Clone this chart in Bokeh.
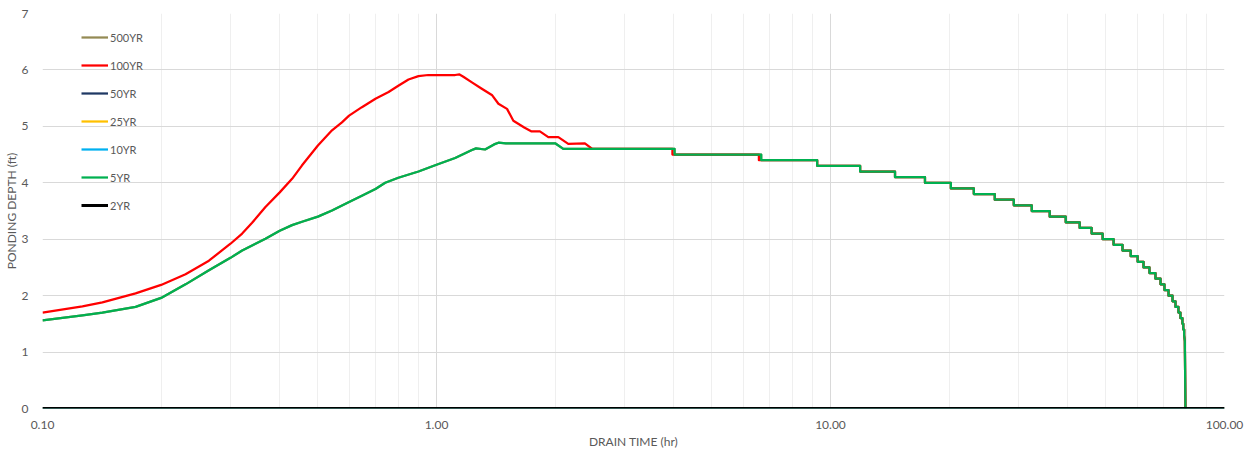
from bokeh.plotting import figure
from bokeh.models import Legend, LegendItem, FixedTicker, PrintfTickFormatter, Range1d
from bokeh.embed import file_html
from bokeh.resources import INLINE

# ---------------- data ----------------
series_names = ["500YR", "100YR", "50YR", "25YR", "10YR", "5YR", "2YR"]
series_colors = ["#948a54", "#ff0000", "#1f3864", "#ffc000", "#00b0f0", "#00b050", "#000000"]

x_ticks = [0.1, 1.0, 10.0, 100.0]
y_ticks = [0, 1, 2, 3, 4, 5, 6, 7]

# 100YR rising / falling limb (hr, ft)
red_t = [0.1, 0.1263, 0.1419, 0.1723, 0.2, 0.2307, 0.2645, 0.3, 0.3212, 0.3404,
         0.368, 0.4, 0.43, 0.4558, 0.5, 0.543, 0.5754, 0.6, 0.6466, 0.7,
         0.7558, 0.8, 0.849, 0.9, 0.9527, 1.0, 1.115, 1.144, 1.17, 1.23,
         1.30, 1.385, 1.436, 1.51, 1.567, 1.67, 1.743, 1.83, 1.922, 2.038,
         2.16, 2.38, 2.485]
red_d = [1.70, 1.81, 1.88, 2.04, 2.19, 2.38, 2.62, 2.92, 3.10, 3.29,
         3.57, 3.83, 4.07, 4.31, 4.66, 4.93, 5.07, 5.19, 5.34, 5.49,
         5.61, 5.72, 5.83, 5.89, 5.91, 5.91, 5.91, 5.92, 5.88, 5.78,
         5.67, 5.55, 5.40, 5.31, 5.10, 4.98, 4.91, 4.91, 4.81, 4.81,
         4.69, 4.70, 4.60]

# 5YR rising / falling limb
green_t = [0.1, 0.1263, 0.1419, 0.1723, 0.2, 0.2307, 0.2645, 0.3, 0.3212, 0.3404,
           0.368, 0.4, 0.43, 0.4558, 0.5, 0.543, 0.6, 0.6466, 0.7, 0.741,
           0.8, 0.9, 1.0, 1.115, 1.23, 1.26, 1.328, 1.40, 1.436, 1.50,
           1.922, 2.0, 2.098]
green_d = [1.56, 1.65, 1.70, 1.80, 1.96, 2.20, 2.45, 2.67, 2.80, 2.89,
           3.01, 3.15, 3.25, 3.31, 3.40, 3.51, 3.66, 3.77, 3.89, 4.00,
           4.09, 4.20, 4.32, 4.44, 4.58, 4.61, 4.59, 4.68, 4.71, 4.70,
           4.70, 4.70, 4.60]

# stepped drawdown (times at which level drops, and level after each drop)
step_t = [4.02, 6.67, 9.25, 11.89, 14.58, 17.37, 20.21, 23.11, 26.12, 29.19,
          32.42, 36.01, 39.54, 42.9, 46.0, 49.06, 52.3, 55.1, 57.8, 60.2,
          62.3, 64.5, 66.8, 68.8, 70.4, 72.1, 73.8, 75.1, 76.4, 77.3,
          78.2, 78.6, 79.0]
step_d = [4.5, 4.4, 4.3, 4.2, 4.1, 4.0, 3.9, 3.8, 3.7, 3.6,
          3.5, 3.4, 3.3, 3.2, 3.1, 3.0, 2.9, 2.8, 2.7, 2.6,
          2.5, 2.4, 2.3, 2.2, 2.1, 2.0, 1.9, 1.8, 1.7, 1.6,
          1.5, 1.4, 1.3]
red_step_t = [3.97, 6.58] + step_t[2:]
drop_t = [79.3, 79.6]
drop_d = [1.2, 0.0]

zero_t = [0.1, 100.0]
zero_d = [0.0, 0.0]


def build(t0, d0, st, sd):
    xs, ys = list(t0), list(d0)
    level = d0[-1]
    for t, d in zip(st, sd):
        xs += [t, t]
        ys += [level, d]
        level = d
    xs += drop_t
    ys += drop_d
    return xs, ys


red_x, red_y = build(red_t, red_d, red_step_t, step_d)
green_x, green_y = build(green_t, green_d, step_t, step_d)
olive_x, olive_y = build(green_t, green_d, step_t, step_d)

data = {
    "500YR": (olive_x, olive_y),
    "100YR": (red_x, red_y),
    "50YR": (zero_t, zero_d),
    "25YR": (zero_t, zero_d),
    "10YR": (zero_t, zero_d),
    "5YR": (green_x, green_y),
    "2YR": (zero_t, zero_d),
}

# ---------------- figure ----------------
FONT = "Lato"
TXT = "#595959"

p = figure(width=1248, height=455, x_axis_type="log",
           x_range=Range1d(0.1, 100), y_range=Range1d(0, 7),
           output_backend="svg", toolbar_location=None,
           min_border_left=40, min_border_right=24, min_border_top=13, min_border_bottom=47)
p.outline_line_color = None
p.background_fill_color = "white"

items = []
for name, color in zip(series_names, series_colors):
    xs, ys = data[name]
    lw = 3 if name == "2YR" else 2.25
    r = p.line(xs, ys, line_color=color, line_width=lw, line_join="round")
    items.append(LegendItem(label=name, renderers=[r]))

# axes
p.xaxis.ticker = FixedTicker(ticks=x_ticks,
                             minor_ticks=[m * 10.0 ** e for e in (-1, 0, 1) for m in range(2, 10)])
p.xaxis.formatter = PrintfTickFormatter(format="%.2f")
p.yaxis.ticker = FixedTicker(ticks=y_ticks)
for ax in (p.xaxis[0], p.yaxis[0]):
    ax.axis_line_color = None
    ax.major_tick_line_color = None
    ax.minor_tick_line_color = None
    ax.major_label_text_font = FONT
    ax.major_label_text_font_size = "12px"
    ax.major_label_text_color = TXT
    ax.axis_label_text_font = FONT
    ax.axis_label_text_font_size = "12px"
    ax.axis_label_text_color = TXT
    ax.axis_label_text_font_style = "normal"
p.xaxis.axis_label = "DRAIN TIME (hr)"
p.yaxis.axis_label = "PONDING DEPTH (ft)"
p.xaxis.major_label_standoff = 6
p.xaxis.axis_label_standoff = 2
p.yaxis.major_label_standoff = 8
p.yaxis.axis_label_standoff = 0

p.xgrid.grid_line_color = "#d9d9d9"
p.xgrid.minor_grid_line_color = "#efefef"
p.ygrid.grid_line_color = "#d9d9d9"

legend = Legend(items=items, location=(39, 193), padding=0, margin=0, spacing=8,
                glyph_width=27, glyph_height=20, label_height=20, label_standoff=2,
                background_fill_alpha=0, border_line_color=None,
                label_text_font=FONT, label_text_font_size="11px", label_text_color=TXT)
p.add_layout(legend)

open("out.html", "w").write(file_html(p, INLINE))
